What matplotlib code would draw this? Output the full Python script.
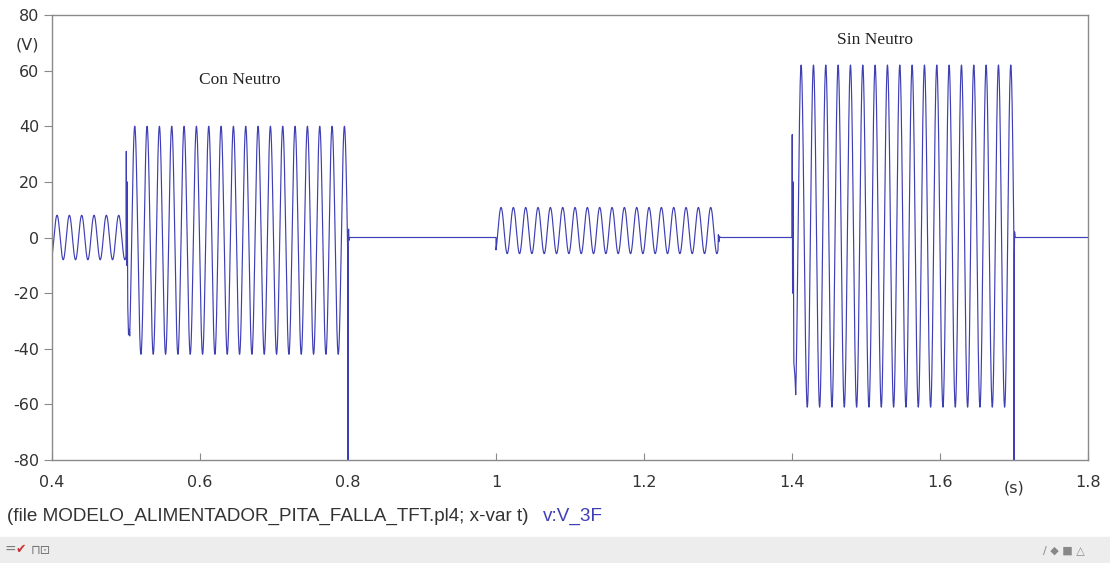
import numpy as np
import matplotlib.pyplot as plt

plt.rcParams['axes.unicode_minus'] = False

# ATP plot of v:V_3F, piecewise 60 Hz segments
freq = 60.0
seg_start = [0.400, 0.505, 1.000, 1.405]
seg_end = [0.500, 0.800, 1.300, 1.700]
seg_amp = [8.0, 41.0, 8.3, 61.5]
seg_offset = [0.0, -1.0, 2.5, 0.5]
seg_phase_deg = [-57, -165, -57, -176]

# switching transients (time in s, voltage in V) after each segment
trans_1_t = [0.5000, 0.5004, 0.5010, 0.5016, 0.5024, 0.5034, 0.5045]
trans_1_v = [-6, 31, -10, 20, -25, -35, -33]
trans_2_t = [0.8001, 0.8003, 0.8008, 0.8014, 0.8022, 1.0000]
trans_2_v = [-80, 0, 3, -1, 0, 0]
trans_3_t = [1.3005, 1.3012, 1.3020, 1.3030, 1.4000, 1.4003, 1.4008, 1.4015, 1.4025, 1.4040]
trans_3_v = [1, -1.5, 0.5, 0, 0, 37, -20, 20, -45, -50]
trans_4_t = [1.7001, 1.7004, 1.7008, 1.7015, 1.8000]
trans_4_v = [-80, -6, 2, 0, 0]

transients = [(trans_1_t, trans_1_v), (trans_2_t, trans_2_v),
              (trans_3_t, trans_3_v), (trans_4_t, trans_4_v)]


def build_wave():
    ts, vs = [], []
    for i in range(len(seg_start)):
        t = np.arange(seg_start[i], seg_end[i], 1e-5)
        v = seg_offset[i] + seg_amp[i] * np.sin(2 * np.pi * freq * t + np.radians(seg_phase_deg[i]))
        ts.append(t)
        vs.append(v)
        ts.append(np.array(transients[i][0]))
        vs.append(np.array(transients[i][1], dtype=float))
    return np.concatenate(ts), np.concatenate(vs)


t, v = build_wave()

fig = plt.figure(figsize=(11.1, 5.63), dpi=100)
ax = fig.add_axes([52 / 1110, 1 - 460 / 563, (1088 - 52) / 1110, (460 - 15) / 563])

line_color = '#3f3fb5'
ax.plot(t, v, color=line_color, linewidth=0.85)

ax.set_xlim(0.4, 1.8)
ax.set_ylim(-80, 80)
ax.set_xticks([0.4, 0.6, 0.8, 1.0, 1.2, 1.4, 1.6, 1.8])
ax.set_xticklabels(['0.4', '0.6', '0.8', '1', '1.2', '1.4', '1.6', '1.8'])
ax.set_yticks(range(-80, 81, 20))

for s in ax.spines.values():
    s.set_color('#8a8a8a')
    s.set_linewidth(1.0)
ax.tick_params(axis='x', direction='in', length=5, pad=11, color='#8a8a8a',
               labelsize=11.5, labelcolor='#333333')
ax.tick_params(axis='y', direction='out', length=6, pad=3, color='#8a8a8a',
               labelsize=11.5, labelcolor='#333333')

# unit labels
ax.text(-0.024, 0.933, '(V)', transform=ax.transAxes, fontsize=11.5, color='#333333',
        ha='center', va='center')
ax.text(0.929, -0.062, '(s)', transform=ax.transAxes, fontsize=11.5, color='#333333',
        ha='center', va='center')

# annotations
ax.text(0.654, 56.6, 'Con Neutro', family='Liberation Serif', fontsize=12.5,
        ha='center', va='center', color='#222222')
ax.text(1.512, 71, 'Sin Neutro', family='Liberation Serif', fontsize=12.5,
        ha='center', va='center', color='#222222')

# footer line
fig.text(7 / 1110, 1 - 516 / 563, '(file MODELO_ALIMENTADOR_PITA_FALLA_TFT.pl4; x-var t)',
         family='Liberation Sans', fontsize=13.6, color='#333333', va='center')
fig.text(543 / 1110, 1 - 516 / 563, 'v:V_3F', family='Liberation Sans', fontsize=13.6,
         color='#3f3fb5', va='center')

# toolbar strip
band = plt.Rectangle((0, 0), 1, 26 / 563, transform=fig.transFigure,
                     color='#ededed', zorder=0)
fig.patches.append(band)
fig.text(0.004, 13 / 563, '=', fontsize=10, color='#777777', va='center')
fig.text(0.014, 13 / 563, '\u2714', fontsize=9, color='#cc3333', va='center')
fig.text(0.028, 13 / 563, '\u2293\u22a1', fontsize=9, color='#777777', va='center')
fig.text(0.94, 13 / 563, '\u2215 \u25c6 \u25a0 \u25b3', fontsize=8, color='#888888', va='center')

fig.savefig('out.png', dpi=100)
